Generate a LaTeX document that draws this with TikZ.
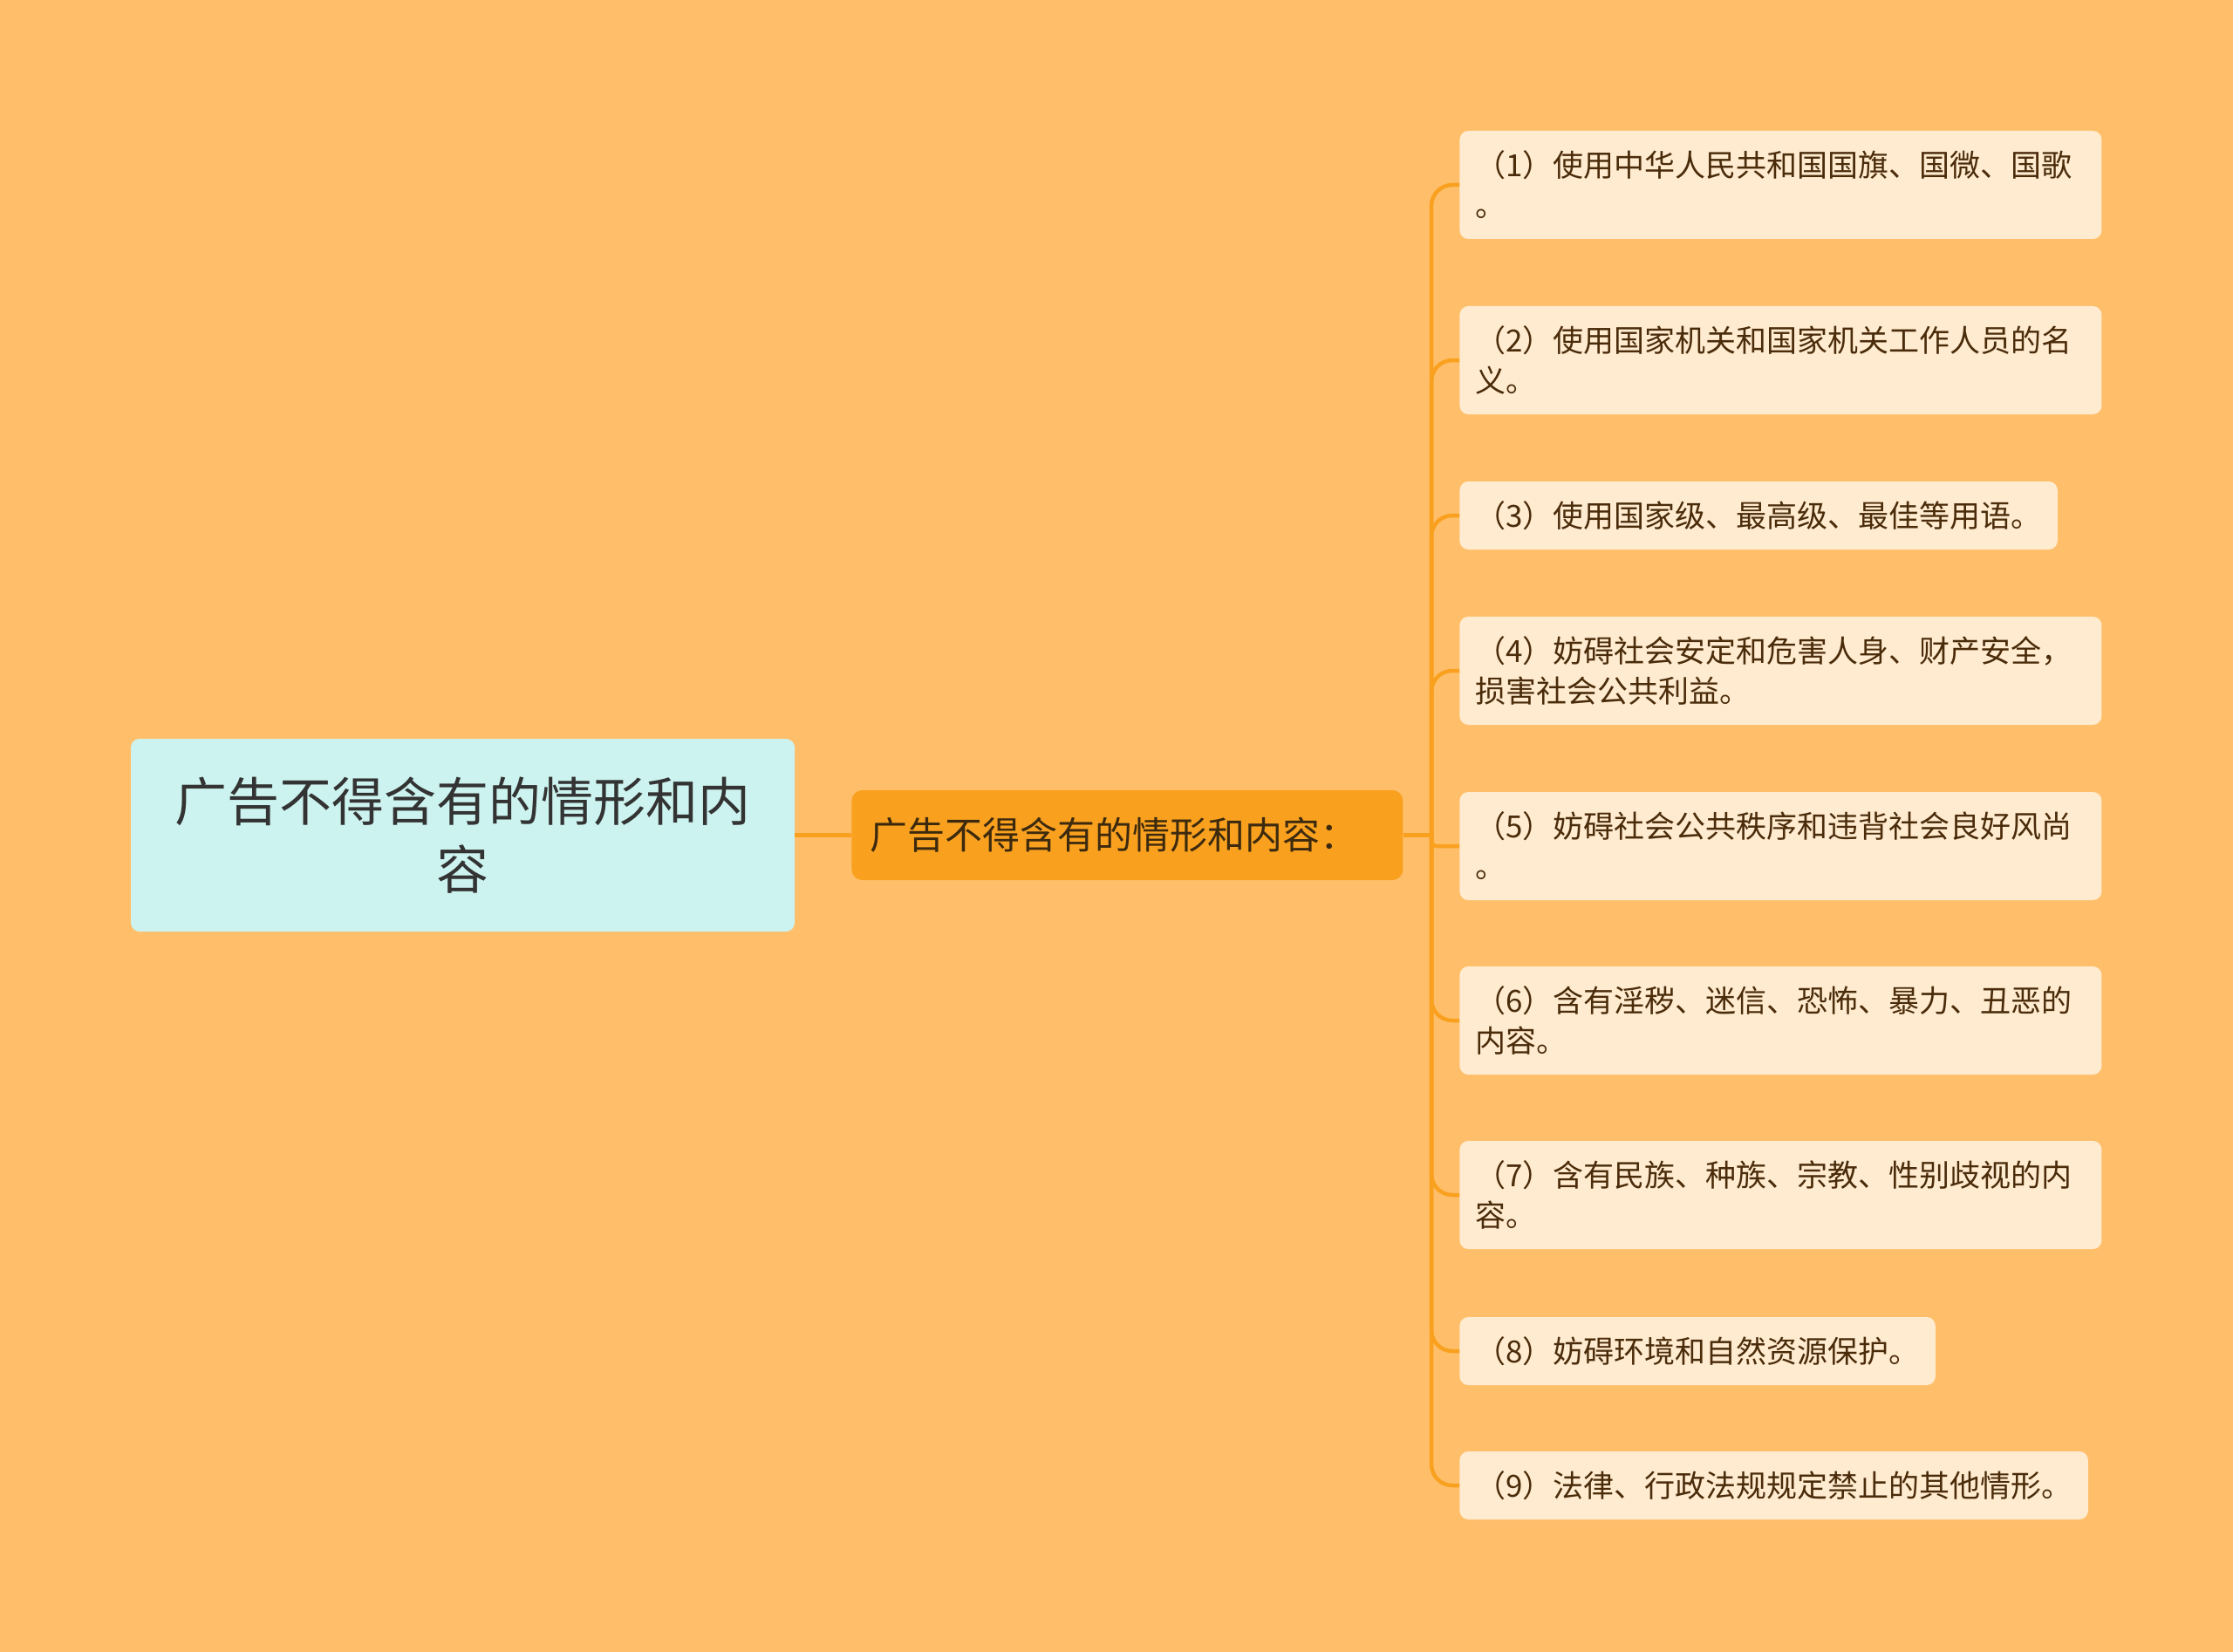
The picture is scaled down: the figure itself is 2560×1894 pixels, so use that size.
\documentclass[tikz,border=0pt]{standalone}
\usepackage{fontspec}
\setmainfont{Noto Sans CJK SC}
\usetikzlibrary{calc}
\definecolor{bgc}{HTML}{FFBF6A}
\definecolor{rootc}{HTML}{CCF3EF}
\definecolor{midc}{HTML}{F9A11F}
\definecolor{leafc}{HTML}{FFEBD0}
\definecolor{linkc}{HTML}{F9A11F}
\definecolor{leaftext}{HTML}{4A2C0A}
\definecolor{midtext}{HTML}{3D2A0E}

\begin{document}
\begin{tikzpicture}[x=0.5pt,y=-0.5pt,
    leaf/.style={anchor=west,fill=leafc,rounded corners=5pt,inner xsep=9pt,
      inner ysep=0pt,minimum height=39pt,align=left,text=leaftext,
      font=\fontsize{17.5}{23}\selectfont},
    leaftwo/.style={leaf,text width=350pt,minimum height=62pt},
    link/.style={draw=linkc,line width=2.25pt}]
    \fill[bgc] (0,0) rectangle (2560,1894);
    \useasboundingbox (0,0) rectangle (2560,1894);
    \node[fill=rootc,rounded corners=5pt,minimum width=380.5pt,minimum height=110.5pt,
      align=center,text=black!80,font=\fontsize{30}{39}\selectfont]
      (r) at (530.5,957.5) {广告不得含有的情形和内\\容};
    \node[anchor=west,fill=midc,rounded corners=6pt,inner xsep=10.5pt,text width=295pt,
      minimum height=51.5pt,align=left,text=midtext,font=\fontsize{21.5}{26}\selectfont]
      (m) at (976,957.5) {广告不得含有的情形和内容：};
    \coordinate (b0) at (1641,957.5);
    \node[leaftwo] (l1) at (1673,212) {（1）使用中华人民共和国国旗、国微、国歌\\。};
    \node[leaftwo] (l2) at (1673,413) {（2）使用国家机关和国家机关工作人员的名\\义。};
    \node[leaf] (l3) at (1673,591) {（3）使用国家级、最高级、最佳等用语。};
    \node[leaftwo] (l4) at (1673,769) {（4）妨碍社会安定和危害人身、财产安全，\\损害社会公共利益。};
    \node[leaftwo] (l5) at (1673,970) {（5）妨碍社会公共秩序和违背社会良好风尚\\。};
    \node[leaftwo] (l6) at (1673,1170) {（6）含有淫秽、迷信、恐怖、暴力、丑恶的\\内容。};
    \node[leaftwo] (l7) at (1673,1370) {（7）含有民族、种族、宗教、性别歧视的内\\容。};
    \node[leaf] (l8) at (1673,1549) {（8）妨碍环境和自然资源保护。};
    \node[leaf] (l9) at (1673,1703) {（9）法律、行政法规规定禁止的其他情形。};
    \draw[link] (r) -- (m);
    \draw[link] (m.east) -- (b0);
    \foreach \i in {1,2,3,4,6,7,8,9}
      \draw[link,rounded corners=12pt] (b0) |- (l\i.west);
    \draw[link,rounded corners=3pt] (b0) |- (l5.west);
  \end{tikzpicture}
\end{document}
